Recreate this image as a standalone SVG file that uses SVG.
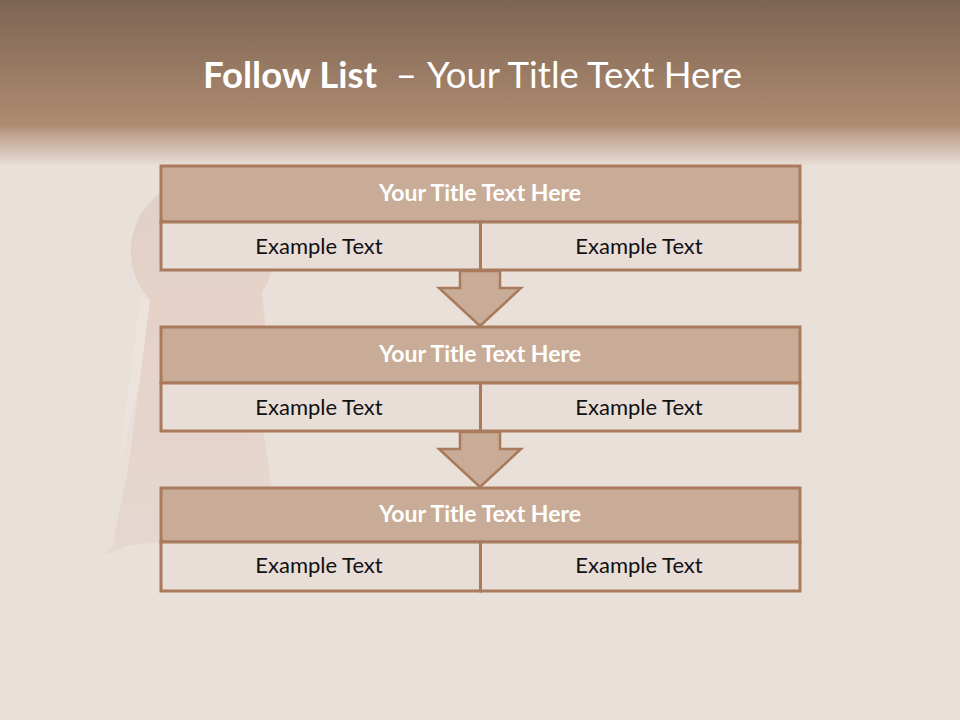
<svg xmlns="http://www.w3.org/2000/svg" width="960" height="720" viewBox="0 0 960 720">
  <defs>
    <linearGradient id="hdr" x1="0" y1="0" x2="0" y2="1">
      <stop offset="0" stop-color="#7d6552"/>
      <stop offset="0.76" stop-color="#ae8b72"/>
      <stop offset="0.8" stop-color="#bb9d88"/>
      <stop offset="1" stop-color="#e8ddd6"/>
    </linearGradient>
    <linearGradient id="hole" x1="0" y1="0" x2="0" y2="1">
      <stop offset="0" stop-color="#dccbc1"/>
      <stop offset="0.4" stop-color="#e6cdc2"/>
      <stop offset="1" stop-color="#e3d6ce"/>
    </linearGradient>
  </defs>
  <style>
    .title { fill:#c9ac97; stroke:#a97a5c; stroke-width:3; }
    .cell { fill:#e8ddd7; stroke:#a97a5c; stroke-width:3; }
    .arrow { fill:#c9ac97; stroke:#a97a5c; stroke-width:2.5; stroke-linejoin:miter; }
    .tt { font-family:Lato, "Open Sans", "Liberation Sans", sans-serif; font-weight:bold; font-size:23px; fill:#ffffff; text-anchor:middle; }
    .et { font-family:Lato, "Open Sans", "Liberation Sans", sans-serif; font-size:22px; fill:#111111; text-anchor:middle; }
    .head { font-family:Lato, "Open Sans", "Liberation Sans", sans-serif; fill:#ffffff; }
  </style>

  <!-- background -->
  <rect x="0" y="0" width="960" height="720" fill="#e9e0da"/>
  <rect x="0" y="0" width="960" height="165" fill="url(#hdr)"/>

  <!-- faint keyhole scene -->
  <g id="keyhole" opacity="0.75">
    <path d="M150,300 A72,72 0 1 1 262,292 L268,350 L262,420 L276,520 L240,535 L130,545 L100,556 L118,470 L140,380 Z" fill="url(#hole)"/>
    <path d="M140,300 L150,300 L128,470 L112,548 L100,556 L118,470 Z" fill="#eee6e0" opacity="0.7"/>
  </g>

  <!-- header text -->
  <g id="header">
    <text class="head" x="203" y="88" font-size="36.5" font-weight="bold">Follow List</text>
    <text class="head" x="417" y="88" font-size="36.5" text-anchor="end">–</text>
    <text class="head" x="427" y="88" font-size="36.5">Your Title Text Here</text>
  </g>

  <!-- connectors -->
  <g id="connectors">
    <path class="arrow" d="M460,271 L500,271 L500,288 L521,288 L480,326 L439,288 L460,288 Z"/>
    <path class="arrow" d="M460,432 L500,432 L500,449 L521,449 L480,487 L439,449 L460,449 Z"/>
  </g>

  <g id="node1">
    <rect class="title" x="161" y="166" width="639" height="56"/>
    <rect class="cell" x="161" y="222" width="319.5" height="48"/>
    <rect class="cell" x="480.5" y="222" width="319.5" height="48"/>
    <text class="tt" x="480" y="201">Your Title Text Here</text>
    <text class="et" x="319" y="254">Example Text</text>
    <text class="et" x="639" y="254">Example Text</text>
  </g>

  <g id="node2">
    <rect class="title" x="161" y="327" width="639" height="56"/>
    <rect class="cell" x="161" y="383" width="319.5" height="48"/>
    <rect class="cell" x="480.5" y="383" width="319.5" height="48"/>
    <text class="tt" x="480" y="362">Your Title Text Here</text>
    <text class="et" x="319" y="415">Example Text</text>
    <text class="et" x="639" y="415">Example Text</text>
  </g>

  <g id="node3">
    <rect class="title" x="161" y="488" width="639" height="54"/>
    <rect class="cell" x="161" y="542" width="319.5" height="49"/>
    <rect class="cell" x="480.5" y="542" width="319.5" height="49"/>
    <text class="tt" x="480" y="522">Your Title Text Here</text>
    <text class="et" x="319" y="573">Example Text</text>
    <text class="et" x="639" y="573">Example Text</text>
  </g>
</svg>
